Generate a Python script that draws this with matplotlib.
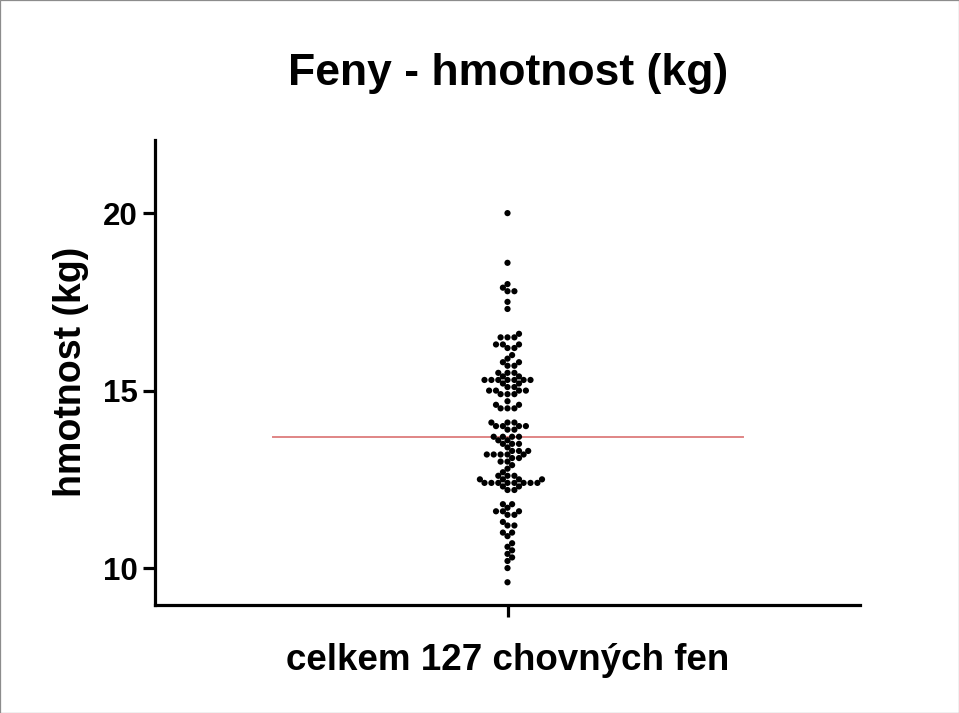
import numpy as np
import matplotlib
matplotlib.use("Agg")
import matplotlib.pyplot as plt
from matplotlib.patches import Rectangle

# ---- data ----
weight_levels = [20.0, 18.6, 18.0, 17.9, 17.8, 17.5, 17.3,
                 16.6, 16.5, 16.3, 16.2, 16.0, 15.9, 15.8, 15.7, 15.5, 15.4, 15.3, 15.2,
                 15.1, 15.0, 14.9, 14.7, 14.6, 14.5, 14.1, 14.0, 13.9,
                 13.7, 13.6, 13.5, 13.4, 13.3, 13.2, 13.1, 13.0, 12.9, 12.8,
                 12.7, 12.6, 12.5, 12.4, 12.3, 12.2,
                 11.8, 11.7, 11.6, 11.5, 11.3, 11.2, 11.0, 10.9,
                 10.7, 10.6, 10.5, 10.4, 10.3, 10.2, 10.0, 9.6]
dog_counts = [1, 1, 1, 1, 2, 1, 1,
              1, 3, 3, 2, 1, 1, 2, 2, 3, 2, 7, 2,
              2, 4, 3, 1, 2, 3, 3, 4, 2,
              4, 2, 3, 1, 3, 5, 2, 2, 1, 1,
              1, 3, 4, 8, 2, 2,
              2, 1, 3, 2, 1, 2, 2, 1,
              1, 1, 1, 1, 1, 1, 1, 1]
title_text = "Feny - hmotnost (kg)"
y_label = "hmotnost (kg)"
x_label = "celkem 127 chovných fen"
y_ticks = [10, 15, 20]

values = np.sort(np.repeat(weight_levels, dog_counts))

# ---- figure ----
W, H, DPI = 959, 713, 100
fig = plt.figure(figsize=(W / DPI, H / DPI), dpi=DPI)
fig.patch.set_facecolor("white")
fig.patches.append(Rectangle((0.0005, 0.0007), 0.999, 0.9986, transform=fig.transFigure,
                             fill=False, edgecolor="#8c8c8c", linewidth=0.9))

ax_left, ax_right, ax_bottom, ax_top = 155 / W, 860 / W, 1 - 605 / H, 1 - 140 / H
ax = fig.add_axes([ax_left, ax_bottom, ax_right - ax_left, ax_top - ax_bottom])
ylo, yhi = 8.96, 22.06
ax.set_xlim(-0.5, 0.5)
ax.set_ylim(ylo, yhi)

# ---- beeswarm layout (in pixel space) ----
ax_w_px = (ax_right - ax_left) * W
ax_h_px = (ax_top - ax_bottom) * H
px_per_y = ax_h_px / (yhi - ylo)
px_per_x = ax_w_px / 1.0
step = 6.9 / 3
mind = 5.6
order = [0]
for i in range(1, 90):
    order += [i, -i]
placed = []
xs = []
for v in values:
    ypx = v * px_per_y
    for c in order:
        xpx = c * step
        if all((px - xpx) ** 2 + (py - ypx) ** 2 >= mind ** 2 for px, py in placed):
            placed.append((xpx, ypx))
            xs.append(xpx / px_per_x)
            break
xs = np.array(xs)

ax.scatter(xs, values, s=20, color="black", edgecolors="none", zorder=3)
med = np.median(values)
ax.plot([-1 / 3, 1 / 3], [med, med], color="#e08585", linewidth=1.4, zorder=2)

# ---- axes styling ----
for s in ["top", "right"]:
    ax.spines[s].set_visible(False)
for s in ["left", "bottom"]:
    ax.spines[s].set_linewidth(2.3)
    ax.spines[s].set_color("black")
ax.set_yticks(y_ticks)
ax.set_yticklabels([str(t) for t in y_ticks], fontfamily="Liberation Sans",
                   fontweight="bold", fontsize=22.5)
ax.set_xticks([0])
ax.set_xticklabels([""])
ax.tick_params(axis="both", length=8.5, width=2.3, color="black", pad=4)

fig.text(508 / W, 1 - 73 / H, title_text, ha="center", va="center",
         fontfamily="Liberation Sans", fontweight="bold", fontsize=32)
fig.text(71 / W, 1 - 372 / H, y_label, ha="center", va="center", rotation=90,
         fontfamily="Liberation Sans", fontweight="bold", fontsize=27)
fig.text(508 / W, 1 - 660 / H, x_label, ha="center", va="center",
         fontfamily="Liberation Sans", fontweight="bold", fontsize=26.5)

fig.savefig("out.png", dpi=DPI, facecolor="white")
